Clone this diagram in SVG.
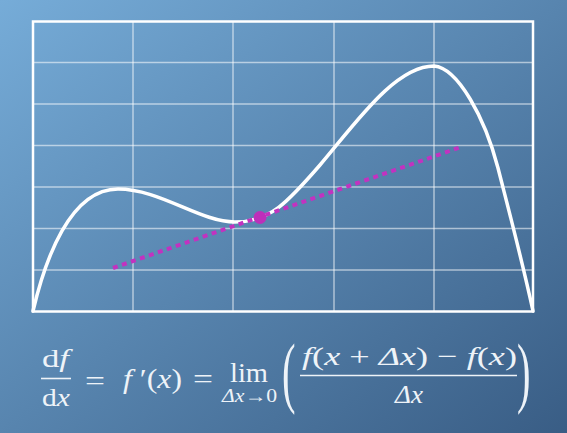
<svg xmlns="http://www.w3.org/2000/svg" width="567" height="433" viewBox="0 0 567 433">
  <defs>
    <linearGradient id="bg" x1="0" y1="0" x2="1" y2="1">
      <stop offset="0" stop-color="#76acd8"/>
      <stop offset="1" stop-color="#395d85"/>
    </linearGradient>
  </defs>
  <style>
    .grid { stroke: #ffffff; stroke-opacity: 0.55; stroke-width: 1.5; fill: none; }
    .frame { stroke: #ffffff; stroke-width: 2.5; fill: none; }
    .curve { stroke: #ffffff; stroke-width: 3.5; fill: none; stroke-linecap: round; }
    .tangent { stroke: #c232c0; stroke-width: 4; stroke-dasharray: 5 4.5; fill: none; }
    .math { font-family: "Liberation Serif", "DejaVu Serif", serif; fill: #eef3f8; }
    .it { font-style: italic; }
    .bar { stroke: #eef3f8; stroke-width: 1.6; }
  </style>
  <rect id="background" x="0" y="0" width="567" height="433" fill="url(#bg)"/>
  <g id="grid">
    <g class="grid">
      <line x1="133" y1="21.5" x2="133" y2="311.5"/>
      <line x1="233" y1="21.5" x2="233" y2="311.5"/>
      <line x1="334" y1="21.5" x2="334" y2="311.5"/>
      <line x1="434" y1="21.5" x2="434" y2="311.5"/>
      <line x1="33" y1="62.5" x2="533" y2="62.5"/>
      <line x1="33" y1="104" x2="533" y2="104"/>
      <line x1="33" y1="145.5" x2="533" y2="145.5"/>
      <line x1="33" y1="187" x2="533" y2="187"/>
      <line x1="33" y1="228.5" x2="533" y2="228.5"/>
      <line x1="33" y1="270" x2="533" y2="270"/>
    </g>
    <rect class="frame" x="33" y="21.5" width="500" height="290"/>
  </g>
  <g id="curve">
    <path class="curve" d="M33,311 C45,260 70,189 118,189 C160,189 200,222 235,222 C270,222 288,202 320,165 C355,124 395,66 434,66 C458,68 485,118 498,168 C510,215 522,260 533,311"/>
  </g>
  <g id="connectors">
    <line class="tangent" x1="113" y1="268" x2="461" y2="147"/>
  </g>
  <g id="point">
    <circle cx="260" cy="217.5" r="6.5" fill="#bd2fba"/>
  </g>
  <g id="formula" class="math">
    <text x="42" y="367" font-size="26" textLength="27" lengthAdjust="spacingAndGlyphs">d<tspan class="it">f</tspan></text>
    <line class="bar" x1="41" y1="378.5" x2="71" y2="378.5"/>
    <text x="42" y="406" font-size="26" textLength="28" lengthAdjust="spacingAndGlyphs">d<tspan class="it">x</tspan></text>
    <text x="85" y="390" font-size="28" textLength="20" lengthAdjust="spacingAndGlyphs">=</text>
    <text x="123" y="388" font-size="28" textLength="59" lengthAdjust="spacingAndGlyphs"><tspan class="it">f</tspan> ′(<tspan class="it">x</tspan>)</text>
    <text x="193" y="388" font-size="28" textLength="20" lengthAdjust="spacingAndGlyphs">=</text>
    <text x="230" y="382" font-size="28" textLength="38" lengthAdjust="spacingAndGlyphs">lim</text>
    <text x="222" y="402" font-size="18" textLength="55" lengthAdjust="spacingAndGlyphs"><tspan class="it">Δx</tspan>→0</text>
    <text transform="translate(282,398) scale(1.45,2.83)" font-size="28">(</text>
    <text x="302" y="365" font-size="26" textLength="215" lengthAdjust="spacingAndGlyphs"><tspan class="it">f</tspan>(<tspan class="it">x</tspan> + <tspan class="it">Δx</tspan>) − <tspan class="it">f</tspan>(<tspan class="it">x</tspan>)</text>
    <line class="bar" x1="300" y1="375.5" x2="517" y2="375.5"/>
    <text x="395" y="403" font-size="26" textLength="28" lengthAdjust="spacingAndGlyphs" class="it">Δx</text>
    <text transform="translate(517,398) scale(1.45,2.83)" font-size="28">)</text>
  </g>
</svg>
